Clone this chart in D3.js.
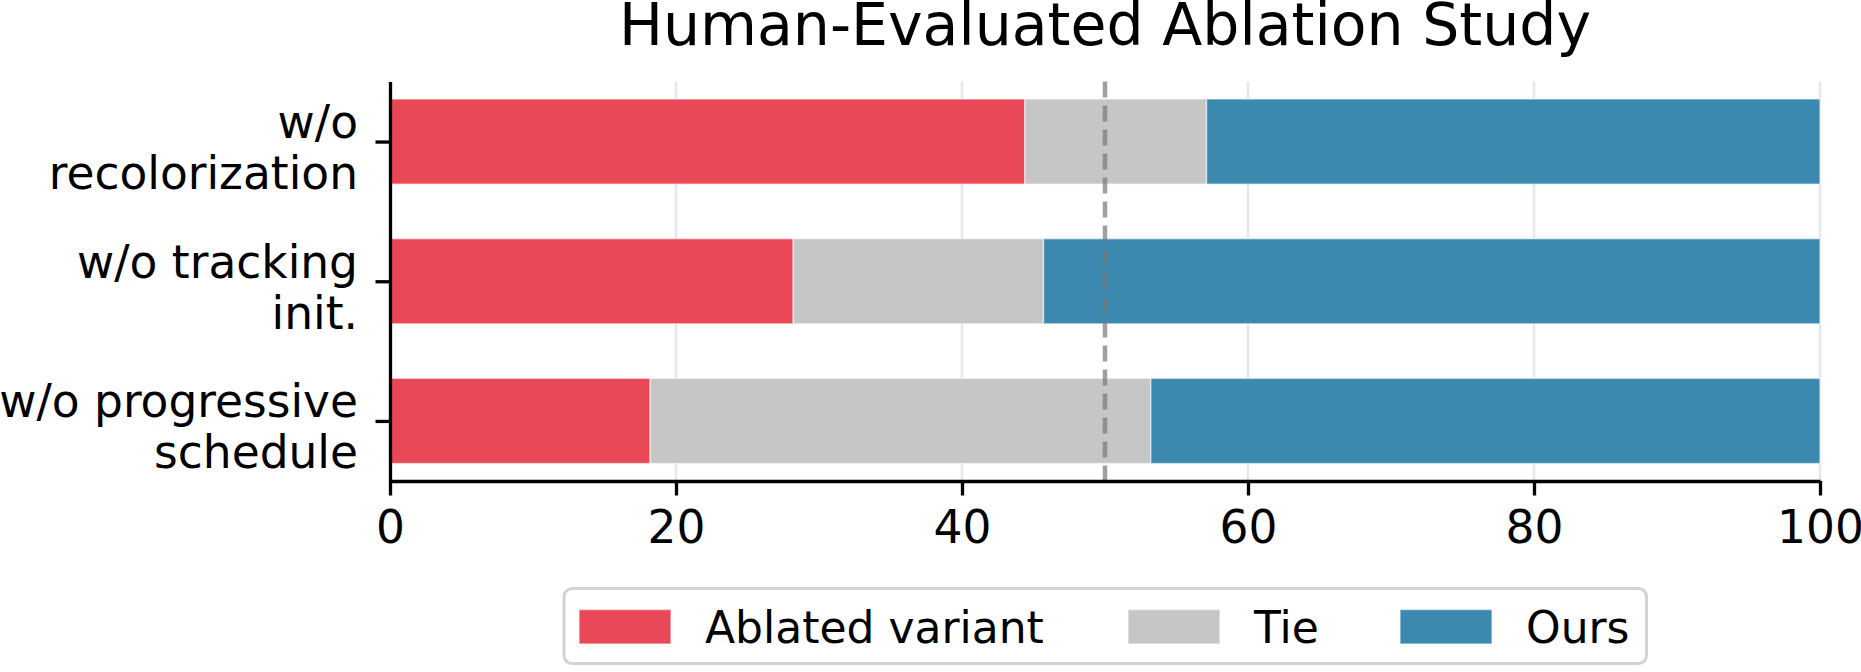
<!DOCTYPE html>
<html>
<head>
<meta charset="utf-8">
<script src="https://cdn.jsdelivr.net/npm/d3@7"></script>
<style>
  body { margin: 0; background: #fff; }
  text { font-family: "DejaVu Sans", sans-serif; fill: #000; }
</style>
</head>
<body>
<div id="chart"></div>
<script>
// data (percent of votes)
var categories = ["w/o\nrecolorization", "w/o tracking\ninit.", "w/o progressive\nschedule"];
var ablated = [44.4, 28.2, 18.2];
var tie = [12.7, 17.5, 35.0];
var ours = [42.9, 54.3, 46.8];
var seriesNames = ["Ablated variant", "Tie", "Ours"];
var seriesColors = ["#e94856", "#c6c6c6", "#3b89ae"];
var xTicks = [0, 20, 40, 60, 80, 100];
var refLine = 50;

var fullWidth = 1861;
var fullHeight = 672;
var margin = {top: 81.5, left: 390, right: 41, bottom: 191};
var width = fullWidth - margin.left - margin.right;
var height = fullHeight - margin.top - margin.bottom;

var svg = d3.select("#chart")
  .append("svg")
  .attr("width", fullWidth)
  .attr("height", fullHeight);

var g = svg.append("g")
  .attr("transform", "translate(" + margin.left + "," + margin.top + ")");

var xScale = d3.scaleLinear().domain([0, 100]).range([0, width]);
// matplotlib-like margins around the bars (bar height 0.6)
var yScale = d3.scaleLinear().domain([-0.43, 2.43]).range([0, height]);
var barH = yScale(0.61) - yScale(0);

// table for the stack
var rows = categories.map(function(c, i) {
  return {cat: c, idx: i, "Ablated variant": ablated[i], "Tie": tie[i], "Ours": ours[i]};
});
var stacked = d3.stack().keys(seriesNames)(rows);

// grid
g.append("g").selectAll("line")
  .data(xTicks.slice(1))
  .join("line")
  .attr("x1", function(d) { return xScale(d); })
  .attr("x2", function(d) { return xScale(d); })
  .attr("y1", 0)
  .attr("y2", height)
  .attr("stroke", "#e4e7ed")
  .attr("stroke-width", 2.5);

// bars
g.append("g").selectAll("g")
  .data(stacked)
  .join("g")
  .attr("fill", function(d, i) { return seriesColors[i]; })
  .selectAll("rect")
  .data(function(d) { return d; })
  .join("rect")
  .attr("x", function(d) { return xScale(d[0]); })
  .attr("width", function(d) { return xScale(d[1]) - xScale(d[0]); })
  .attr("y", function(d) { return yScale(d.data.idx) - barH / 2; })
  .attr("height", barH)
  .attr("stroke", "#fff")
  .attr("stroke-opacity", 0.55)
  .attr("stroke-width", 1.5);

// 50% reference line
g.append("line")
  .attr("x1", xScale(refLine))
  .attr("x2", xScale(refLine))
  .attr("y1", 0)
  .attr("y2", height)
  .attr("stroke", "#777")
  .attr("stroke-opacity", 0.7)
  .attr("stroke-width", 4.5)
  .attr("stroke-dasharray", "16,8");

// x axis
var xAxis = d3.axisBottom(xScale).tickValues(xTicks).tickSize(14.5).tickSizeOuter(0);
var gx = g.append("g")
  .attr("transform", "translate(0," + height + ")")
  .call(xAxis);
gx.select(".domain").attr("stroke", "#000").attr("stroke-width", 3.3);
gx.selectAll(".tick line").attr("stroke", "#000").attr("stroke-width", 3.3);
gx.selectAll(".tick text")
  .attr("y", 62)
  .attr("dy", null)
  .style("font-size", "45.5px")
  .style("font-family", "DejaVu Sans, sans-serif");

// y axis
var yAxis = d3.axisLeft(yScale).tickValues([0, 1, 2]).tickSize(14.5).tickSizeOuter(0);
var gy = g.append("g").call(yAxis);
gy.select(".domain").attr("stroke", "#000").attr("stroke-width", 3.3);
gy.selectAll(".tick line").attr("stroke", "#000").attr("stroke-width", 3.3);
gy.selectAll(".tick text").each(function(d) {
  var t = d3.select(this);
  t.text(null)
    .attr("x", -32)
    .attr("dy", null)
    .attr("y", null)
    .style("font-size", "45.5px")
    .style("font-family", "DejaVu Sans, sans-serif");
  categories[d].split("\n").forEach(function(line, k) {
    t.append("tspan")
      .attr("x", -32)
      .attr("y", k === 0 ? -4 : 47)
      .text(line);
  });
});

// title
svg.append("text")
  .attr("x", margin.left + width / 2)
  .attr("y", 45)
  .attr("text-anchor", "middle")
  .style("font-size", "58.5px")
  .text("Human-Evaluated Ablation Study");

// legend
var legend = svg.append("g");
legend.append("rect")
  .attr("x", 564)
  .attr("y", 588.5)
  .attr("width", 1082.5)
  .attr("height", 75)
  .attr("rx", 8)
  .attr("fill", "#fff")
  .attr("stroke", "#d3d3d3")
  .attr("stroke-width", 3);

var legendX = [579, 1128, 1400];
var items = legend.selectAll("g.item")
  .data(seriesNames)
  .join("g")
  .attr("class", "item")
  .attr("transform", function(d, i) { return "translate(" + legendX[i] + ",0)"; });
items.append("rect")
  .attr("x", 0)
  .attr("y", 609.5)
  .attr("width", 92)
  .attr("height", 34.5)
  .attr("fill", function(d, i) { return seriesColors[i]; })
  .attr("stroke", "#fff")
  .attr("stroke-opacity", 0.55)
  .attr("stroke-width", 1.5);
items.append("text")
  .attr("x", 126)
  .attr("y", 643)
  .style("font-size", "44px")
  .text(function(d) { return d; });
</script>
</body>
</html>
